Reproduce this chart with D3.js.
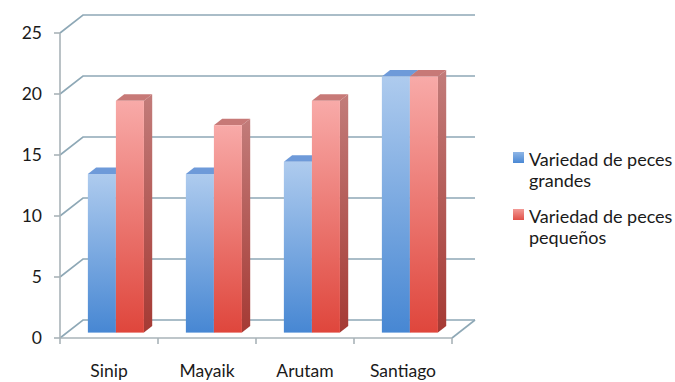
<!DOCTYPE html>
<html>
<head>
<meta charset="utf-8">
<script src="https://cdn.jsdelivr.net/npm/d3@7"></script>
<style>
  html, body { margin: 0; padding: 0; background: #ffffff; }
  svg { display: block; }
  text { font-family: Lato, "Open Sans", sans-serif; fill: #1a1a1a; }
</style>
</head>
<body>
<svg id="chart" width="675" height="382"></svg>
<script>
// Fish variety per community
const categories = ["Sinip", "Mayaik", "Arutam", "Santiago"];
const pecesGrandes = [13, 13, 14, 21];
const pecesPequenos = [19, 17, 19, 21];
const seriesNames = ["Variedad de peces grandes", "Variedad de peces pequeños"];
const legendLines = [["Variedad de peces", "grandes"], ["Variedad de peces", "pequeños"]];
const yTicks = [0, 5, 10, 15, 20, 25];

const W = 675, H = 382;
const svg = d3.select("#chart");

// Oblique projection for the 3D box: depth offset of the back wall
const DX = 23, DY = -18;
const x0 = 60, x1 = 452;
const x = d3.scaleBand().domain(categories).range([x0, x1]);
const y = d3.scaleLinear().domain([0, 25]).range([338, 33]);
const proj = (px, v, f) => [px + f * DX, y(v) + f * DY];

const series = [
  { name: seriesNames[0], values: pecesGrandes, key: "blue" },
  { name: seriesNames[1], values: pecesPequenos, key: "red" }
];

// Gradients
const defs = svg.append("defs");
function vGrad(id, top, bottom) {
  const g = defs.append("linearGradient").attr("id", id)
    .attr("x1", 0).attr("y1", 0).attr("x2", 0).attr("y2", 1);
  g.append("stop").attr("offset", "0%").attr("stop-color", top);
  g.append("stop").attr("offset", "100%").attr("stop-color", bottom);
}
vGrad("blue-front", "#aecbee", "#4787d3");
vGrad("blue-side", "#7f9fca", "#3a68a6");
vGrad("red-front", "#f8aaa8", "#df463c");
vGrad("red-side", "#c27c7a", "#a53a34");
vGrad("blue-key", "#8fb6e6", "#4a88d4");
vGrad("red-key", "#f39a96", "#e05048");
const topFill = { blue: "#6e9ad9", red: "#c77977" };

const gridColor = "#8ea8b6";
const axisColor = "#a9b3b8";

// Walls: gridlines run along the side wall then across the back wall
const walls = svg.append("g");
yTicks.forEach(t => {
  const a = proj(x0, t, 0), b = proj(x0, t, 1), c = proj(x1, t, 1);
  walls.append("path")
    .attr("d", d3.line()([a, b, c]))
    .attr("fill", "none").attr("stroke", gridColor).attr("stroke-width", 1.6);
});
// Floor right edge
walls.append("path")
  .attr("d", d3.line()([proj(x1, 0, 0), proj(x1, 0, 1)]))
  .attr("fill", "none").attr("stroke", gridColor).attr("stroke-width", 1.6);

// Front axes
const axes = svg.append("g");
axes.append("line").attr("x1", x0).attr("x2", x0).attr("y1", y(0)).attr("y2", y(25))
  .attr("stroke", axisColor).attr("stroke-width", 1.6);
axes.append("line").attr("x1", x0).attr("x2", x1).attr("y1", y(0)).attr("y2", y(0))
  .attr("stroke", axisColor).attr("stroke-width", 1.6);
yTicks.forEach(t => {
  axes.append("line").attr("x1", x0 - 6).attr("x2", x0).attr("y1", y(t)).attr("y2", y(t))
    .attr("stroke", axisColor).attr("stroke-width", 1.6);
  axes.append("text").attr("x", 42).attr("y", y(t)).attr("dy", "0.36em")
    .attr("text-anchor", "end").attr("font-size", 17.5).text(t);
});
const bounds = categories.map(c => x(c)).concat([x1]);
bounds.forEach(bx => {
  axes.append("line").attr("x1", bx).attr("x2", bx).attr("y1", y(0)).attr("y2", y(0) + 6)
    .attr("stroke", axisColor).attr("stroke-width", 1.6);
});
categories.forEach(c => {
  axes.append("text").attr("x", x(c) + x.bandwidth() / 2).attr("y", 377)
    .attr("text-anchor", "middle").attr("font-size", 17.5).text(c);
});

// Bars
const bw = x.bandwidth();
const groupW = bw * 0.572;
const inner = d3.scaleBand().domain(d3.range(series.length))
  .range([(bw - groupW) / 2, (bw + groupW) / 2]);
const F0 = 0.3, F1 = 0.66;
const bars = svg.append("g");
categories.forEach((c, i) => {
  series.forEach((s, si) => {
    const v = s.values[i];
    const bx = x(c) + inner(si), ex = bx + inner.bandwidth();
    const g = bars.append("g");
    // side
    g.append("path")
      .attr("d", d3.line()([proj(ex, v, F0), proj(ex, v, F1), proj(ex, 0, F1), proj(ex, 0, F0)]) + "Z")
      .attr("fill", `url(#${s.key}-side)`);
    // top
    g.append("path")
      .attr("d", d3.line()([proj(bx, v, F0), proj(ex, v, F0), proj(ex, v, F1), proj(bx, v, F1)]) + "Z")
      .attr("fill", topFill[s.key]);
    // front
    const p = proj(bx, v, F0), q = proj(ex, 0, F0);
    g.append("rect").attr("x", p[0]).attr("y", p[1])
      .attr("width", q[0] - p[0]).attr("height", q[1] - p[1])
      .attr("fill", `url(#${s.key}-front)`);
  });
});

// Legend
const legend = svg.append("g");
series.forEach((s, si) => {
  const top = 152 + si * 57;
  legend.append("rect").attr("x", 513).attr("y", top).attr("width", 11).attr("height", 11)
    .attr("fill", `url(#${s.key}-key)`);
  legendLines[si].forEach((line, li) => {
    legend.append("text").attr("x", 529).attr("y", top + 14 + li * 21)
      .attr("font-size", 18).text(line);
  });
});
</script>
</body>
</html>
